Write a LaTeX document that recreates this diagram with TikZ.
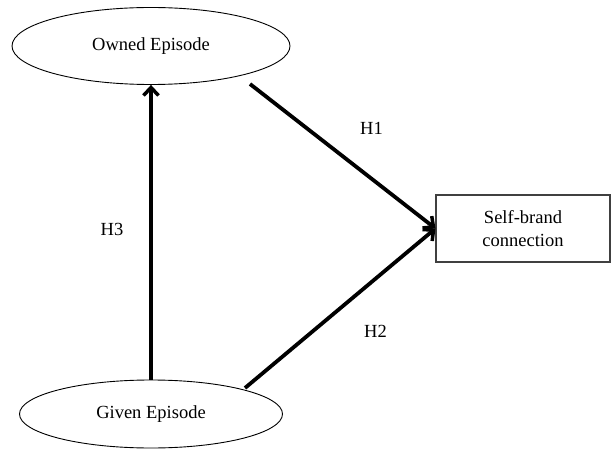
\documentclass[tikz,border=0pt]{standalone}
\usepackage{fontspec}
\setmainfont{Liberation Serif}
\usetikzlibrary{shapes.geometric,arrows.meta}
\begin{document}
\begin{tikzpicture}[x=1pt,y=1pt,
  ell/.style={draw, line width=0.9pt, ellipse, inner sep=0pt},
  box/.style={draw=black!75, line width=1.1pt, inner sep=0pt, align=center},
  arr/.style={line width=3.8pt, -{Straight Barb[length=8pt,width=15pt,line width=3.5pt]}},
  txt/.style={font=\fontsize{18.5}{23}\selectfont}]
\useasboundingbox (0,0) rectangle (612,450);
\node[ell, txt, minimum width=278pt, minimum height=77pt] (own) at (151,404) {Owned Episode};
\node[ell, txt, minimum width=263pt, minimum height=68pt] (giv) at (151,36) {Given Episode};
\node[box, txt, minimum width=174pt, minimum height=67pt] (sbc) at (523,221.5) {Self-brand\\connection};
\draw[arr] (giv.north) -- (own.south);
\draw[arr] (250,366) coordinate (a1) -- (sbc.west);
\draw[arr] (245,62) coordinate (a2) -- (sbc.west);
\node[txt] (h1) at (371.5,321.5) {H1};
\node[txt] (h2) at (375.5,118.5) {H2};
\node[txt] (h3) at (112,220.5) {H3};
\end{tikzpicture}
\end{document}
